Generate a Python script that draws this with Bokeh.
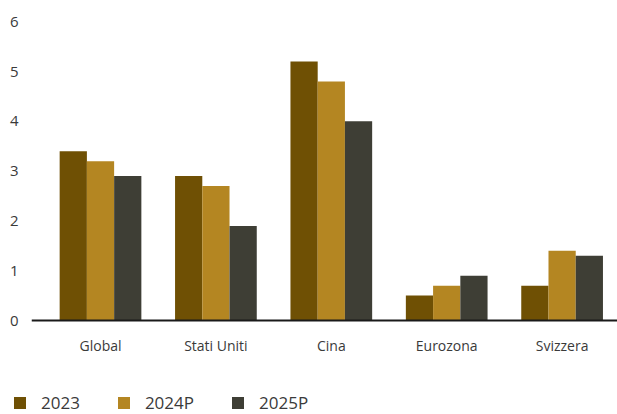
import numpy as np
from bokeh.plotting import figure
from bokeh.layouts import column
from bokeh.models import ColumnDataSource, Range1d, FixedTicker, Span, Legend, LegendItem
from bokeh.transform import dodge
from bokeh.embed import file_html
from bokeh.resources import INLINE

categories = ["Global", "Stati Uniti", "Cina", "Eurozona", "Svizzera"]
series_names = ["2023", "2024P", "2025P"]
v2023 = [3.4, 2.9, 5.2, 0.5, 0.7]
v2024 = [3.2, 2.7, 4.8, 0.7, 1.4]
v2025 = [2.9, 1.9, 4.0, 0.9, 1.3]
y_ticks = [0, 1, 2, 3, 4, 5, 6]
colors = ["#6F5004", "#B48622", "#3E3E35"]

xpos = np.arange(len(categories)) + 0.5
src = ColumnDataSource(dict(x=xpos, cat=categories, a=v2023, b=v2024, c=v2025))

FONT = "Open Sans"
TXT = "#3a3a3a"

p = figure(width=617, height=360, output_backend="svg", toolbar_location=None,
           x_range=Range1d(-0.098, 4.98), y_range=Range1d(-0.04, 6.225),
           min_border_left=31, min_border_right=0, min_border_top=10, min_border_bottom=38)
p.frame_align = False
p.outline_line_color = None
p.grid.grid_line_color = None
p.background_fill_color = "white"
p.border_fill_color = "white"

w = 0.236
for col, off, color in zip(["a", "b", "c"], [-w, 0.0, w], colors):
    p.vbar(x=dodge("x", off), top=col, bottom=0, width=w, source=src,
           fill_color=color, line_color=None)

p.add_layout(Span(location=0, dimension="width", line_color="#1a1a1a", line_width=2))

p.xaxis.ticker = FixedTicker(ticks=list(xpos))
overrides = {}
for xv, c in zip(xpos, categories):
    overrides[float(xv)] = c
    overrides[str(float(xv))] = c
p.xaxis.major_label_overrides = overrides
p.xaxis.axis_line_color = None
p.xaxis.major_tick_line_color = None
p.xaxis.minor_tick_line_color = None
p.xaxis.major_tick_out = 0
p.xaxis.major_tick_in = 0
p.xaxis.minor_tick_out = 0
p.xaxis.major_label_standoff = 13
p.xaxis.major_label_text_font = FONT
p.xaxis.major_label_text_font_size = "14px"
p.xaxis.major_label_text_color = TXT

p.yaxis.ticker = FixedTicker(ticks=y_ticks)
p.yaxis.axis_line_color = None
p.yaxis.major_tick_line_color = None
p.yaxis.minor_tick_line_color = None
p.yaxis.major_tick_out = 0
p.yaxis.major_tick_in = 0
p.yaxis.minor_tick_out = 0
p.yaxis.major_label_standoff = 13
p.yaxis.major_label_text_font = FONT
p.yaxis.major_label_text_font_size = "15px"
p.yaxis.major_label_text_color = TXT

# legend strip
lf = figure(width=617, height=54, output_backend="svg", toolbar_location=None,
            x_axis_type=None, y_axis_type=None,
            x_range=Range1d(0, 1), y_range=Range1d(0, 1),
            min_border_left=0, min_border_right=0, min_border_top=0, min_border_bottom=0)
lf.frame_align = False
lf.outline_line_color = None
lf.grid.grid_line_color = None
lf.border_fill_color = "white"
lf.background_fill_color = "white"
leg_renderers = []
for color in colors:
    # zero-height proxy bar outside the visible range, only used by the legend
    r = lf.vbar(x=[-1.0], top=[0.0], bottom=[0.0], width=0.1, fill_color=color, line_color=None)
    leg_renderers.append(r)

legend = Legend(items=[LegendItem(label=n, renderers=[r]) for n, r in zip(series_names, leg_renderers)],
                orientation="horizontal", location=(12, 0),
                glyph_width=15, glyph_height=15, label_standoff=14, spacing=36,
                padding=0, margin=0, border_line_color=None, background_fill_alpha=0,
                label_text_font=FONT, label_text_font_size="17px", label_text_color=TXT,
                label_height=15)
lf.add_layout(legend, "center")

layout = column(p, lf, spacing=0)
open("out.html", "w").write(file_html(layout, INLINE))
